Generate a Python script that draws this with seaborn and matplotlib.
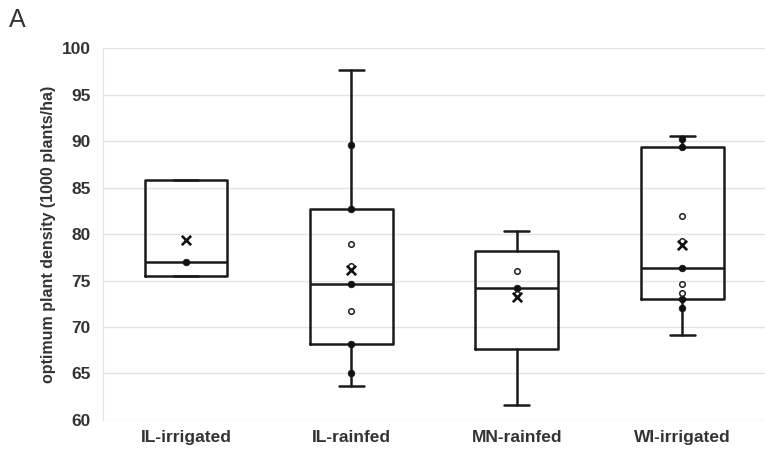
import pandas as pd
import matplotlib
matplotlib.use("Agg")
import matplotlib.pyplot as plt
import seaborn as sns

# -----------------------------------
# DATA
# -----------------------------------

sites = ["IL-irrigated", "IL-rainfed", "MN-rainfed", "WI-irrigated"]

whisker_low = [75.5, 63.6, 61.6, 69.1]
q1 = [75.5, 68.2, 67.6, 73.0]
median = [77.0, 74.6, 74.2, 76.3]
q3 = [85.8, 82.7, 78.2, 89.4]
whisker_high = [85.8, 97.7, 80.3, 90.6]
mean = [79.4, 76.1, 73.2, 78.8]

# filled data points
filled_site = ["IL-irrigated",
               "IL-rainfed", "IL-rainfed", "IL-rainfed", "IL-rainfed", "IL-rainfed",
               "MN-rainfed",
               "WI-irrigated", "WI-irrigated", "WI-irrigated", "WI-irrigated", "WI-irrigated"]
filled_value = [77.0,
                89.6, 82.7, 74.6, 68.2, 65.1,
                74.2,
                90.2, 89.4, 76.3, 73.0, 72.0]

# hollow data points
hollow_site = ["IL-rainfed", "IL-rainfed", "IL-rainfed",
               "MN-rainfed", "MN-rainfed",
               "WI-irrigated", "WI-irrigated", "WI-irrigated", "WI-irrigated"]
hollow_value = [78.9, 76.6, 71.7,
                76.0, 73.6,
                81.9, 79.2, 74.6, 73.7]

# -----------------------------------
# STYLE
# -----------------------------------

sns.set_style("whitegrid")
plt.rcParams["font.family"] = ["Liberation Sans", "DejaVu Sans"]

fig = plt.figure(figsize=(7.65, 4.54), dpi=100)
ax = fig.add_axes([0.135, 0.075, 0.865, 0.819])

# -----------------------------------
# BOXES
# -----------------------------------

stats = []
for i in range(len(sites)):
    stats.append({
        "whislo": whisker_low[i],
        "q1": q1[i],
        "med": median[i],
        "q3": q3[i],
        "whishi": whisker_high[i],
        "mean": mean[i],
        "fliers": [],
    })

line_kw = dict(color="#1a1a1a", linewidth=1.8)
ax.bxp(
    stats,
    positions=range(len(sites)),
    widths=0.5,
    showfliers=False,
    showmeans=False,
    boxprops=line_kw,
    whiskerprops=line_kw,
    capprops=line_kw,
    medianprops=line_kw,
    capwidths=0.15,
    zorder=3,
)

# -----------------------------------
# POINTS
# -----------------------------------

pos = {s: i for i, s in enumerate(sites)}

filled_df = pd.DataFrame({"site": filled_site, "value": filled_value})
filled_df["x"] = filled_df["site"].map(pos)
hollow_df = pd.DataFrame({"site": hollow_site, "value": hollow_value})
hollow_df["x"] = hollow_df["site"].map(pos)
mean_df = pd.DataFrame({"x": range(len(sites)), "value": mean})

sns.scatterplot(data=filled_df, x="x", y="value", ax=ax, s=24,
                color="#111111", edgecolor="#111111", zorder=4)
sns.scatterplot(data=hollow_df, x="x", y="value", ax=ax, s=16,
                facecolor="white", edgecolor="#222222", linewidth=1.1, zorder=4)
sns.scatterplot(data=mean_df, x="x", y="value", ax=ax, marker="x", s=45,
                color="#111111", linewidth=1.9, zorder=5)

# -----------------------------------
# AXES
# -----------------------------------

ax.set_xlim(-0.5, len(sites) - 0.5)
ax.set_ylim(60, 100)
ax.set_yticks(range(60, 101, 5))
ax.set_xticks(range(len(sites)))
ax.set_xticklabels(sites)
ax.tick_params(axis="both", labelsize=12.5, colors="#333333", length=0)
ax.tick_params(axis="y", pad=9)
ax.tick_params(axis="x", pad=7)
for lab in ax.get_xticklabels() + ax.get_yticklabels():
    lab.set_fontweight("bold")

ax.grid(axis="y", color="#e3e3e3", linewidth=1)
ax.grid(axis="x", visible=False)
for side in ["top", "right", "bottom"]:
    ax.spines[side].set_visible(False)
ax.spines["left"].set_color("#e3e3e3")

ax.set_xlabel("")
ax.set_ylabel("optimum plant density (1000 plants/ha)", fontsize=11.5,
              fontweight="bold", color="#333333", labelpad=4)

fig.text(0.012, 0.94, "A", fontsize=18, color="#333333")

plt.savefig("out.png", dpi=100)
